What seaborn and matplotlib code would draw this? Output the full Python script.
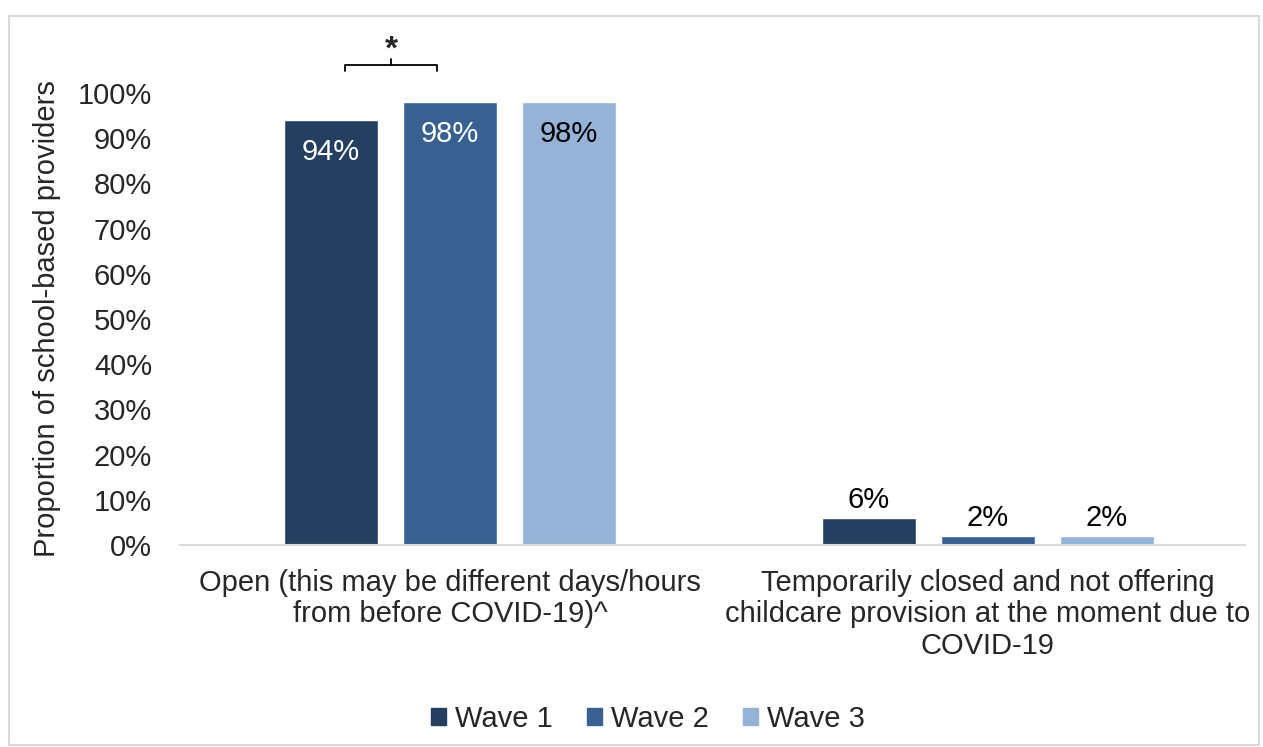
import matplotlib
matplotlib.use("Agg")
import matplotlib.pyplot as plt
import matplotlib.patches as mpatches
import pandas as pd
import seaborn as sns

categories = ["Open (this may be different days/hours\nfrom before COVID-19)^",
              "Temporarily closed and not offering\nchildcare provision at the moment due to\nCOVID-19"]
waves = ["Wave 1", "Wave 2", "Wave 3"]
wave1 = [94, 6]
wave2 = [98, 2]
wave3 = [98, 2]
colors = ["#253F60", "#386192", "#95B3D7"]

rows = []
for w, vals in zip(waves, [wave1, wave2, wave3]):
    for c, v in zip(categories, vals):
        rows.append({"category": c, "wave": w, "value": v})
df = pd.DataFrame(rows)

sns.set_style("white")
plt.rcParams["font.family"] = ["Liberation Sans", "DejaVu Sans"]
FS = 21

fig = plt.figure(figsize=(12.63, 7.47), dpi=100)
ax = fig.add_axes([0.1425, 0.2704, 0.8432, 0.6051])

sns.barplot(data=df, x="category", y="value", hue="wave", order=categories,
            hue_order=waves, palette=colors, width=0.664, gap=0.21,
            saturation=1, ax=ax, legend=False)

ax.set_ylim(0, 100)
ax.set_xlim(-0.502, 1.478)
ax.set_yticks(range(0, 101, 10))
ax.set_yticklabels([f"{t}%" for t in range(0, 101, 10)], fontsize=FS)
ax.tick_params(axis="y", length=0, pad=20)
ax.tick_params(axis="x", length=0, pad=17, labelsize=FS)
for lbl in ax.get_xticklabels():
    lbl.set_linespacing(1.16)
ax.set_xlabel("")
ax.set_ylabel("Proportion of school-based providers", fontsize=FS, labelpad=12)
for s in ["top", "right", "left"]:
    ax.spines[s].set_visible(False)
ax.spines["bottom"].set_color("#D9D9D9")
ax.spines["bottom"].set_linewidth(1.5)

# value labels
label_colors = ["white", "white", "black"]
for container, lc in zip(ax.containers, label_colors):
    for bar in container:
        h = bar.get_height()
        x = bar.get_x() + bar.get_width() / 2
        if h > 50:
            ax.text(x, h - 7.0, f"{h:.0f}%", ha="center", va="center", fontsize=FS, color=lc)
        else:
            ax.text(x, h + 0.9, f"{h:.0f}%", ha="center", va="bottom", fontsize=FS, color="black")

# significance bracket between wave 1 and wave 2 of first category
b1 = ax.containers[0][0]
b2 = ax.containers[1][0]
x1 = b1.get_x() + b1.get_width() * 0.65
x2 = b2.get_x() + b2.get_width() * 0.36
xm = (x1 + x2) / 2
yb, yt = 104.8, 106.3
ax.plot([x1, x1, x2, x2], [yb, yt, yt, yb], color="black", lw=1.3, clip_on=False)
ax.plot([xm, xm], [yt, yt + 1.2], color="black", lw=1.3, clip_on=False)
ax.text(xm, yt - 0.2, "*", ha="center", va="bottom", fontsize=24, fontweight="bold",
        clip_on=False)

handles = [mpatches.Patch(color=c, label=w) for c, w in zip(colors, waves)]
fig.legend(handles=handles, loc="center", bbox_to_anchor=(0.513, 0.038), ncol=3,
           frameon=False, fontsize=FS, handlelength=0.5, handleheight=0.5,
           handletextpad=0.3, columnspacing=1.2)

border = mpatches.Rectangle((0.007, 0.003), 0.99, 0.976, transform=fig.transFigure,
                            fill=False, edgecolor="#D9D9D9", lw=1.5)
fig.patches.append(border)

fig.savefig("out.png", dpi=100)
